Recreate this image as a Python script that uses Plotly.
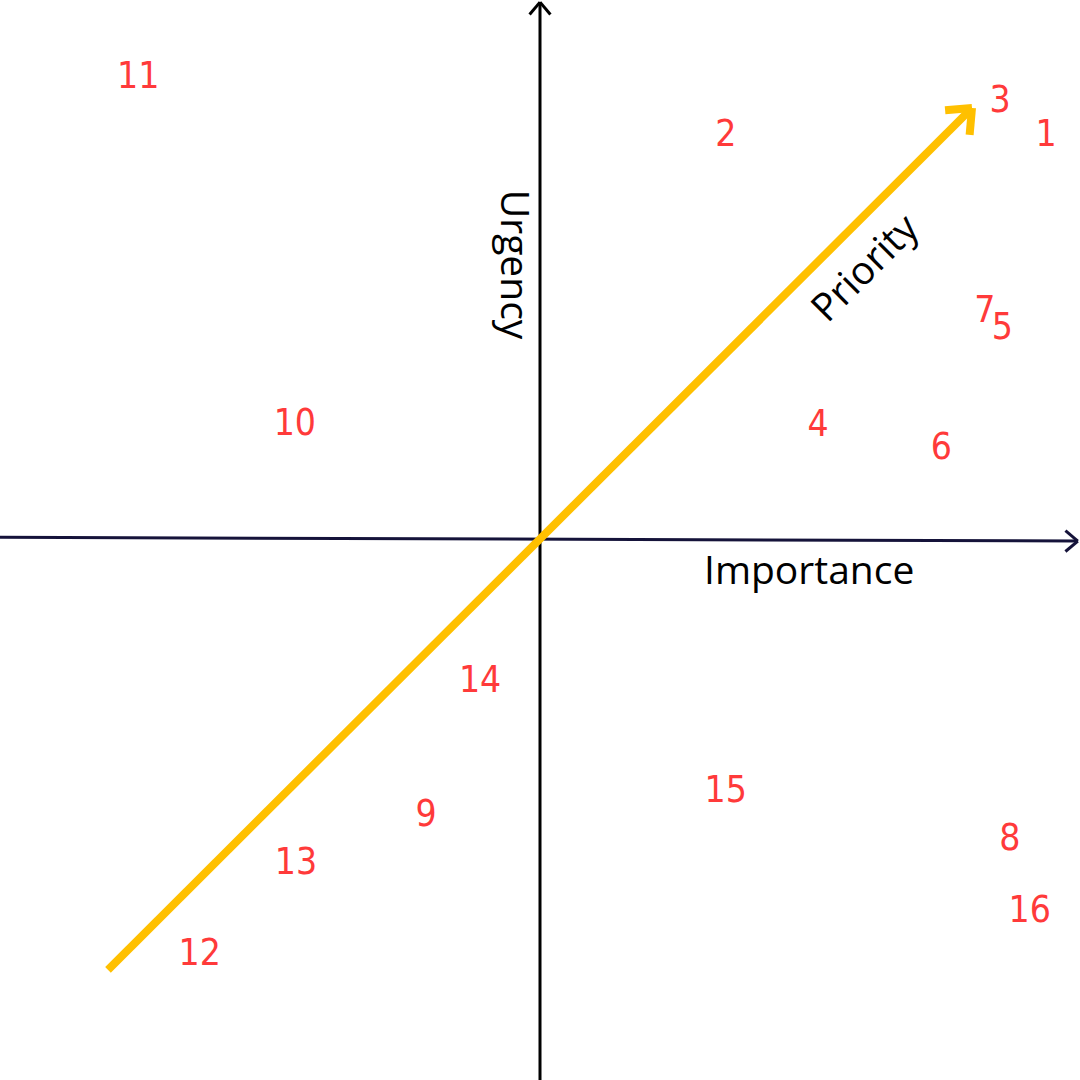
import plotly.graph_objects as go
import numpy as np

# Task labels and their positions (importance, urgency), axis range -10..10
labels = ["1", "2", "3", "4", "5", "6", "7", "8", "9", "10", "11", "12", "13", "14", "15", "16"]
importance = [9.37, 3.44, 8.52, 5.15, 8.56, 7.43, 8.24, 8.70, -2.11, -4.54, -7.44, -6.30, -4.52, -1.11, 3.44, 9.07]
urgency = [7.47, 7.47, 8.10, 2.10, 3.89, 1.67, 4.21, -5.57, -5.13, 2.12, 8.54, -7.70, -6.01, -2.64, -4.68, -6.90]

# Priority arrow (tail, head) in data units
priority_x = [-8.0, 8.0]
priority_y = [-7.96, 8.0]

RED = "#ff3a3a"
YELLOW = "#ffc000"
NAVY = "#15133a"

fig = go.Figure()

def chevron(x0, y0, x1, y1, size, ang=np.deg2rad(40)):
    d = np.arctan2(y1 - y0, x1 - x0)
    xs, ys = [], []
    for s in (1, -1):
        a = d + np.pi - s * ang
        xs += [x1 + size * np.cos(a), x1, None]
        ys += [y1 + size * np.sin(a), y1, None]
    return xs, ys

# Axes
fig.add_trace(go.Scatter(x=[-10, 9.96], y=[0.05, -0.02], mode="lines",
                         line=dict(color=NAVY, width=3), hoverinfo="skip"))
hx, hy = chevron(-10, 0, 9.96, -0.02, 0.3)
fig.add_trace(go.Scatter(x=hx, y=hy, mode="lines", line=dict(color=NAVY, width=3), hoverinfo="skip"))
fig.add_trace(go.Scatter(x=[0, 0], y=[-10, 9.96], mode="lines",
                         line=dict(color="black", width=3), hoverinfo="skip"))
vx, vy = chevron(0, -10, 0, 9.96, 0.3)
fig.add_trace(go.Scatter(x=vx, y=vy, mode="lines", line=dict(color="black", width=3), hoverinfo="skip"))

# Priority arrow
fig.add_trace(go.Scatter(x=priority_x, y=priority_y, mode="lines",
                         line=dict(color=YELLOW, width=8), hoverinfo="skip"))
px_, py_ = chevron(priority_x[0], priority_y[0], priority_x[1], priority_y[1], 0.5)
fig.add_trace(go.Scatter(x=px_, y=py_, mode="lines",
                         line=dict(color=YELLOW, width=8), hoverinfo="skip"))

# Task numbers
fig.add_trace(go.Scatter(x=importance, y=urgency, mode="text", text=labels,
                         textposition="middle center",
                         textfont=dict(color=RED, size=37, family="DejaVu Sans Condensed, DejaVu Sans"),
                         hoverinfo="skip"))

lab_font = dict(family="Open Sans", size=39, color="black")
fig.add_annotation(x=4.98, y=-0.52, text="Importance", showarrow=False, font=lab_font,
                   xanchor="center", yanchor="middle")
fig.add_annotation(x=-0.42, y=5.09, text="Urgency", showarrow=False, font=lab_font,
                   textangle=90, xanchor="center", yanchor="middle")
fig.add_annotation(x=5.98, y=5.07, text="Priority", showarrow=False, font=lab_font,
                   textangle=-45, xanchor="center", yanchor="middle")

fig.update_layout(
    width=1080, height=1080,
    margin=dict(l=0, r=0, t=0, b=0),
    paper_bgcolor="white", plot_bgcolor="white",
    showlegend=False,
    xaxis=dict(range=[-10, 10], visible=False, fixedrange=True),
    yaxis=dict(range=[-10, 10], visible=False, fixedrange=True),
)

fig.write_html("out.html", config={"displayModeBar": False},
               post_script="document.body.style.margin='0';document.body.style.overflow='hidden';")
